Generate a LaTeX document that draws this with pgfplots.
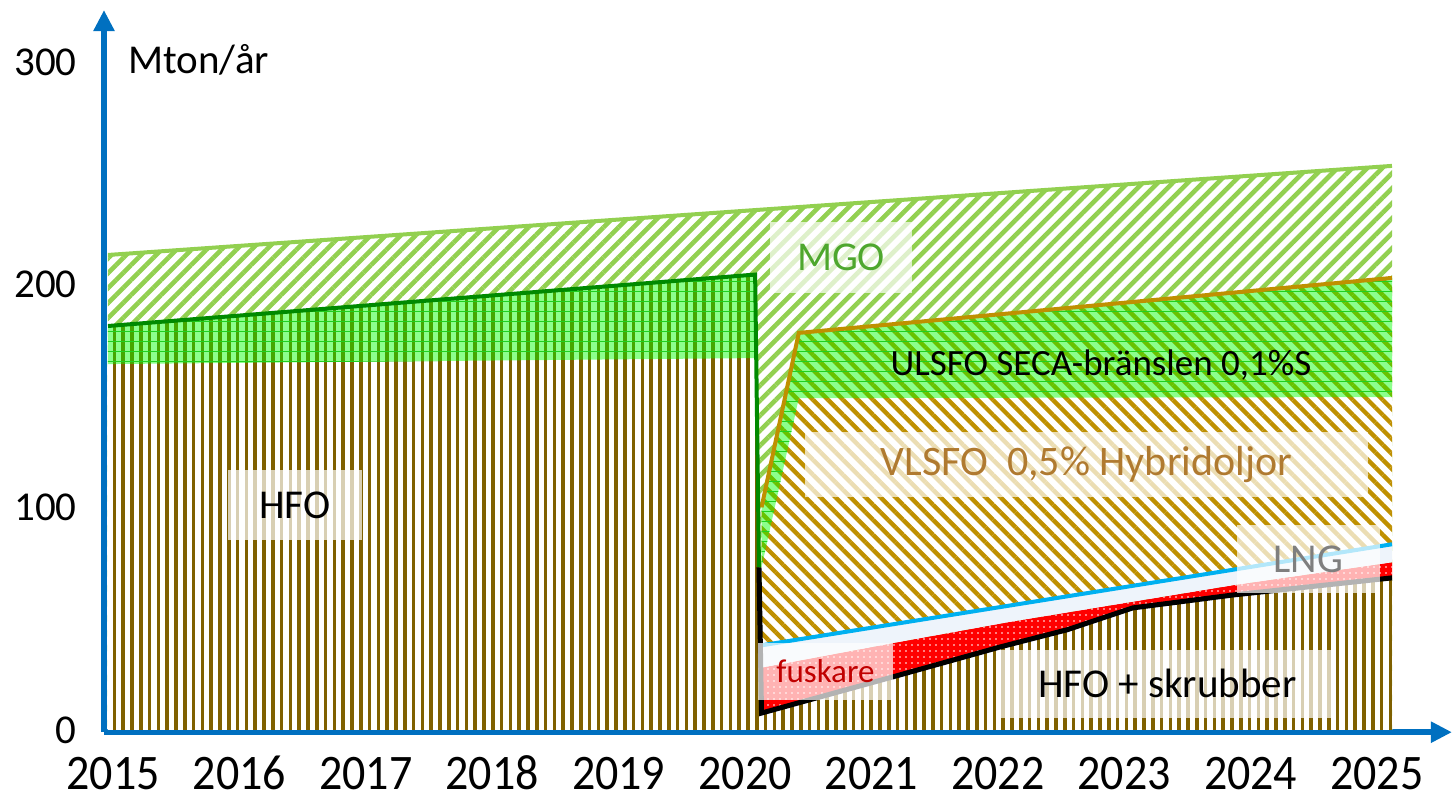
\documentclass[border=0pt]{standalone}
\usepackage{fontspec}
\setmainfont{Carlito}
\usepackage{graphicx}
\usepackage{pgfplots}
\pgfplotsset{compat=1.18}
\usetikzlibrary{patterns.meta, arrows.meta}
\definecolor{axblue}{HTML}{0070C0}
\definecolor{hfobrown}{HTML}{7F6000}
\definecolor{vlbrown}{HTML}{BF9000}
\definecolor{mgogreen}{HTML}{92D050}
\definecolor{ulgreen}{HTML}{00FF00}
\definecolor{ullines}{HTML}{20D020}
\definecolor{hfogreenline}{HTML}{008A00}
\definecolor{lngblue}{HTML}{00B0F0}
\definecolor{lngfill}{HTML}{EEF4FB}
\definecolor{mgotext}{HTML}{4EA72E}
\definecolor{vltext}{HTML}{B07A30}
\definecolor{fusktext}{HTML}{C00000}
\definecolor{lngtext}{HTML}{7F7F7F}
\newcommand{\xl}[1]{\scalebox{1}[1.08]{#1}}
\begin{document}
\begin{tikzpicture}
\begin{axis}[
  scale only axis, width=674pt, height=361.1pt,
  xmin=2014.969, xmax=2025.467, ymin=-1, ymax=323.3,
  axis lines=left,
  axis line style={draw=axblue, line width=2.8pt, -{Triangle[length=10.5pt,width=10pt]}},
  xtick={2015.039,2016.023,2017.008,2017.992,2018.977,2019.961,2020.946,2021.930,2022.915,2023.899,2024.883},
  xticklabels={\xl{2015},\xl{2016},\xl{2017},\xl{2018},\xl{2019},\xl{2020},\xl{2021},\xl{2022},\xl{2023},\xl{2024},\xl{2025}},
  ytick={0,100,200,300},
  major tick length=0pt,
  tick style={draw=none},
  /pgf/number format/assume math mode=true,
  yticklabel style={font=\fontsize{20.5}{24}\selectfont, anchor=east, inner sep=0pt, xshift=-13.5pt},
  xticklabel style={font=\fontsize{23}{27}\selectfont, anchor=base, inner sep=0pt, yshift=-28.5pt},
  clip=false,
]
% MGO background
\addplot[draw=none, preaction={fill=white}, pattern={Lines[angle=45,distance=5.3pt,line width=2.3pt]}, pattern color=mgogreen]
  coordinates {(2015,0) (2015,213.3) (2025,253.3) (2025,0)} -- cycle;
% HFO (incl. HFO + skrubber)
\addplot[draw=none, preaction={fill=white}, pattern={Lines[angle=90,distance=4.4pt,line width=1.8pt]}, pattern color=hfobrown]
  coordinates {(2015,0) (2015,181.4) (2020.04,204.5) (2020.07,73) (2020.09,7.6) (2021.11,23.8) (2021.95,37.3) (2022.47,45) (2022.98,54.8) (2023.76,60.6) (2025,68.3) (2025,0)} -- cycle;
% ULSFO before 2020
\addplot[draw=none, fill=ulgreen, fill opacity=0.45, postaction={pattern={Lines[angle=0,distance=5pt,line width=0.3pt]}, pattern color=ullines}]
  coordinates {(2015,164.3) (2020.04,167) (2020.04,204.5) (2015,181.4)} -- cycle;
% fuskare
\addplot[draw=none, fill=red, postaction={pattern={Dots[distance=3pt,radius=0.45pt]}, pattern color=white}]
  coordinates {(2020.09,7.6) (2021.11,23.8) (2021.95,37.3) (2022.47,45) (2022.98,54.8) (2023.76,60.6) (2025,68.3) (2025,75.3) (2023.76,65) (2022.02,48.5) (2021.11,39) (2020.09,28)} -- cycle;
% LNG
\addplot[draw=none, fill=lngfill]
  coordinates {(2020.09,28) (2021.11,39) (2022.02,48.5) (2023.76,65) (2025,75.3) (2025,83.4) (2020.09,38)} -- cycle;
% VLSFO
\addplot[draw=none, preaction={fill=white}, pattern={Lines[angle=-45,distance=5.3pt,line width=2.2pt]}, pattern color=vlbrown]
  coordinates {(2020.09,38) (2025,83.4) (2025,203) (2020.38,178.3) (2020.09,100)} -- cycle;
% ULSFO after 2020
\addplot[draw=none, fill=ulgreen, fill opacity=0.45, postaction={pattern={Lines[angle=0,distance=5pt,line width=0.3pt]}, pattern color=ullines}]
  coordinates {(2020.09,73) (2020.38,149) (2025,149.5) (2025,203) (2020.38,178.3) (2020.09,100)} -- cycle;
% lines
\addplot[draw=mgogreen, line width=2pt] coordinates {(2015,213.3) (2025,253.3)};
\addplot[draw=vlbrown, line width=2pt] coordinates {(2020.09,100) (2020.38,178.3) (2025,203)};
\addplot[draw=lngblue, line width=2pt] coordinates {(2020.09,38) (2025,83.4)};
\addplot[draw=hfogreenline, line width=2pt] coordinates {(2015,181.4) (2020.04,204.5) (2020.07,73)};
\addplot[draw=black, line width=2.5pt] coordinates {(2020.07,73) (2020.09,7.6) (2021.11,23.8) (2021.95,37.3) (2022.47,45) (2022.98,54.8) (2023.76,60.6) (2025,68.3)};
% labels
\node[fill=white, fill opacity=0.7, text opacity=1, minimum width=71pt, minimum height=35.5pt, inner sep=0pt, text=mgotext, font=\fontsize{20.5}{24}\selectfont] at (axis cs:2020.709,212.2) {MGO};
\node[inner sep=0pt, font=\fontsize{18.5}{22}\selectfont] at (axis cs:2022.734,163.9) {ULSFO SECA-bränslen 0,1\%S};
\node[fill=white, fill opacity=0.7, text opacity=1, minimum width=281.5pt, minimum height=32.5pt, inner sep=0pt, text=vltext, font=\fontsize{21}{25}\selectfont] at (axis cs:2022.62,119.2) {VLSFO\ \ 0,5\% Hybridoljor};
\node[fill=white, fill opacity=0.7, text opacity=1, minimum width=67pt, minimum height=35pt, inner sep=0pt, font=\fontsize{20.5}{24}\selectfont] at (axis cs:2016.456,101.0) {HFO};
\node[fill=white, fill opacity=0.7, text opacity=1, minimum width=71.5pt, minimum height=34pt, inner sep=0pt, text=lngtext, font=\fontsize{20.5}{24}\selectfont] at (axis cs:2024.35,76.8) {LNG};
\node[fill=white, fill opacity=0.7, text opacity=1, minimum width=67.5pt, minimum height=28.5pt, inner sep=0pt, text=fusktext, font=\fontsize{16.5}{20}\selectfont] at (axis cs:2020.588,26.3) {fuskare};
\node[fill=white, fill opacity=0.7, text opacity=1, minimum width=167.5pt, minimum height=34pt, inner sep=0pt, font=\fontsize{20.5}{24}\selectfont] at (axis cs:2023.25,20.7) {HFO + skrubber};
\node[anchor=base west, inner sep=0pt, font=\fontsize{20.5}{24}\selectfont] at (axis cs:2015.156,294.6) {Mton/år};
\coordinate (BL) at (axis cs:2014.159,-31.88);
\coordinate (TR) at (axis cs:2025.483,327.8);
\end{axis}
\pgfresetboundingbox
\path (BL) rectangle (TR);
\end{tikzpicture}
\end{document}
